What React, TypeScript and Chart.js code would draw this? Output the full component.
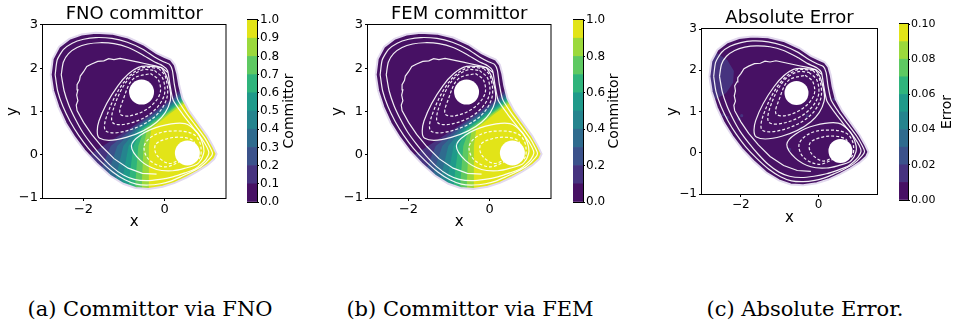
import React, { useEffect, useRef } from "react";
import { Chart, registerables } from "chart.js";

type Pt = [number, number];

// ---------------- data ----------------
const X_RANGE = [-3, 1.5];
const Y_RANGE = [-1, 3];
const X_TICKS = [-2, 0];
const Y_TICKS = [-1, 0, 1, 2, 3];

const COMMITTOR_LEVELS = [0, 0.1, 0.2, 0.3, 0.4, 0.5, 0.6, 0.7, 0.8, 0.9, 1.0];
const ERROR_LEVELS = [0, 0.01, 0.02, 0.03, 0.04, 0.05, 0.06, 0.07, 0.08, 0.09, 0.1];
const LEVEL_COLORS = ["#471164", "#46337f", "#3b528b", "#2f6b8e", "#25848e", "#1f9a8a", "#2fb47c", "#5ec962", "#9bd93c", "#e2e418"];
const CB1_TICKS = [0, 0.1, 0.2, 0.3, 0.4, 0.5, 0.6, 0.7, 0.8, 0.9, 1.0];
const CB2_TICKS = [0, 0.2, 0.4, 0.6, 0.8, 1.0];
const CB3_TICKS = [0, 0.02, 0.04, 0.06, 0.08, 0.1];

const WELLS: Pt[] = [[-0.57, 1.45], [0.56, 0.04]];

const DOMAIN: Pt[] = [
  [-2.81, 1.85], [-2.76, 2.22], [-2.6, 2.5], [-2.35, 2.68], [-2.05, 2.78], [-1.7, 2.82], [-1.3, 2.8], [-0.9, 2.71],
  [-0.5, 2.54], [-0.2, 2.35], [0.0, 2.26], [0.15, 2.2], [0.25, 2.08], [0.31, 1.88], [0.36, 1.6], [0.44, 1.3],
  [0.6, 1.02], [0.83, 0.72], [1.05, 0.43], [1.2, 0.18], [1.28, 0.02], [1.22, -0.1], [1.05, -0.24], [0.82, -0.38],
  [0.55, -0.52], [0.25, -0.65], [-0.05, -0.74], [-0.4, -0.79], [-0.72, -0.77], [-1.02, -0.67], [-1.35, -0.48],
  [-1.68, -0.2], [-1.98, 0.1], [-2.22, 0.4], [-2.44, 0.73], [-2.62, 1.1], [-2.75, 1.48],
];

const INSET_1: Pt[] = [
  [-2.7, 1.85], [-2.65, 2.19], [-2.5, 2.43], [-2.28, 2.58], [-2.0, 2.67], [-1.7, 2.71], [-1.3, 2.69], [-0.92, 2.6],
  [-0.54, 2.44], [-0.25, 2.26], [-0.03, 2.15], [0.12, 2.09], [0.19, 1.95], [0.24, 1.62], [0.32, 1.28], [0.52, 0.98],
  [0.76, 0.68], [0.98, 0.4], [1.12, 0.17], [1.18, 0.03], [1.12, -0.07], [0.9, -0.27], [0.65, -0.4], [0.4, -0.51],
  [0.15, -0.61], [-0.1, -0.67], [-0.4, -0.7], [-0.7, -0.68], [-0.98, -0.58], [-1.28, -0.4], [-1.6, -0.13],
  [-1.88, 0.15], [-2.12, 0.45], [-2.33, 0.77], [-2.51, 1.12], [-2.64, 1.48],
];

const INSET_2: Pt[] = [
  [-2.55, 1.85], [-2.5, 2.14], [-2.37, 2.34], [-2.16, 2.48], [-1.9, 2.56], [-1.6, 2.59], [-1.25, 2.57], [-0.9, 2.48],
  [-0.56, 2.32], [-0.28, 2.16], [-0.05, 2.06], [0.07, 1.95], [0.13, 1.62], [0.21, 1.26], [0.44, 0.94], [0.68, 0.65],
  [0.9, 0.39], [1.04, 0.18], [1.09, 0.04], [1.02, -0.1], [0.92, -0.2], [0.75, -0.33], [0.5, -0.42], [0.2, -0.51],
  [-0.12, -0.57], [-0.45, -0.6], [-0.75, -0.57], [-1.02, -0.47], [-1.3, -0.28], [-1.56, -0.03], [-1.8, 0.24],
  [-2.02, 0.52], [-2.2, 0.82], [-2.36, 1.14], [-2.48, 1.48],
];

// rough (noisy) contour: runs along the bottom, up the left side and over the top
const JAGGED: Pt[] = [
  [-0.2, -0.45], [-0.55, -0.43], [-0.9, -0.31], [-1.25, -0.09], [-1.55, 0.19], [-1.8, 0.47], [-2.0, 0.75],
  [-2.16, 1.02], [-2.18, 1.15], [-2.14, 1.25], [-2.17, 1.38], [-2.14, 1.5], [-2.16, 1.62], [-2.1, 1.72],
  [-2.08, 1.82], [-2.0, 1.92], [-1.92, 2.04], [-1.8, 2.1], [-1.65, 2.16], [-1.5, 2.17], [-1.38, 2.22],
  [-1.25, 2.2], [-1.1, 2.23], [-0.95, 2.2], [-0.8, 2.17], [-0.65, 2.14], [-0.5, 2.11], [-0.35, 2.08],
  [-0.2, 2.05], [-0.05, 2.0], [0.08, 1.9],
];

const UPPER_1: Pt[] = [[-0.35, 1.88], [-0.15, 1.72], [-0.12, 1.4], [-0.4, 1.08], [-0.85, 0.9], [-1.1, 0.95], [-1.02, 1.28], [-0.78, 1.75]];
const UPPER_2: Pt[] = [[-0.25, 1.95], [-0.04, 1.75], [-0.02, 1.35], [-0.35, 0.95], [-0.9, 0.72], [-1.28, 0.74], [-1.25, 1.1], [-0.92, 1.72], [-0.55, 1.96]];
const UPPER_3: Pt[] = [[-0.15, 2.0], [0.02, 1.8], [0.05, 1.3], [-0.28, 0.85], [-0.95, 0.55], [-1.45, 0.55], [-1.42, 0.92], [-1.02, 1.66], [-0.58, 2.0]];
const UPPER_4: Pt[] = [[-0.08, 2.02], [0.06, 1.78], [0.14, 1.25], [-0.2, 0.75], [-0.95, 0.4], [-1.6, 0.38], [-1.62, 0.78], [-1.15, 1.6], [-0.65, 2.02]];

const LOWER_1: Pt[] = [[0.4, -0.1], [0.1, -0.2], [-0.2, 0.0], [-0.22, 0.24], [0.1, 0.38], [0.45, 0.4], [0.7, 0.33], [0.75, 0.22]];
const LOWER_2: Pt[] = [[0.4, -0.15], [0.0, -0.28], [-0.4, -0.1], [-0.5, 0.22], [-0.2, 0.48], [0.3, 0.55], [0.7, 0.48], [0.86, 0.3], [0.9, 0.08], [0.86, -0.08], [0.72, -0.15]];
const LOWER_3: Pt[] = [[0.91, -0.1], [0.8, -0.22], [0.55, -0.3], [0.2, -0.37], [-0.2, -0.34], [-0.6, -0.13], [-0.82, 0.2], [-0.6, 0.45], [-0.1, 0.66], [0.5, 0.72], [0.8, 0.52], [0.93, 0.28], [0.97, 0.08]];

// committor iso-lines 0.1 ... 0.9 (band boundaries)
const ISO_01: Pt[] = [[-2.4, -0.4], [-1.8, 0.03], [-1.52, 0.2], [-0.87, 0.6], [0.1, 1.25], [0.5, 1.6], [1.0, 2.1]];
const ISO_02: Pt[] = [[-1.6, -1.2], [-1.55, -0.3], [-1.33, 0.2], [-0.8, 0.6], [0.1, 1.2], [0.5, 1.52], [1.0, 1.95]];
const ISO_03: Pt[] = [[-1.4, -1.2], [-1.38, -0.4], [-1.17, 0.2], [-0.74, 0.6], [0.1, 1.16], [0.5, 1.46], [1.0, 1.85]];
const ISO_04: Pt[] = [[-1.22, -1.2], [-1.2, -0.5], [-1.02, 0.2], [-0.68, 0.6], [0.1, 1.12], [0.5, 1.41], [1.0, 1.75]];
const ISO_05: Pt[] = [[-1.06, -1.2], [-1.04, -0.55], [-0.89, 0.2], [-0.62, 0.6], [0.1, 1.08], [0.5, 1.37], [1.0, 1.68]];
const ISO_06: Pt[] = [[-0.9, -1.2], [-0.88, -0.6], [-0.77, 0.2], [-0.56, 0.6], [0.1, 1.04], [0.5, 1.33], [1.0, 1.62]];
const ISO_07: Pt[] = [[-0.73, -1.2], [-0.72, -0.6], [-0.65, 0.2], [-0.5, 0.6], [0.1, 1.0], [0.5, 1.29], [1.0, 1.56]];
const ISO_08: Pt[] = [[-0.56, -1.2], [-0.56, -0.6], [-0.52, 0.2], [-0.43, 0.6], [0.1, 0.97], [0.5, 1.25], [1.0, 1.5]];
const ISO_09: Pt[] = [[-0.39, -1.2], [-0.39, 0.2], [-0.33, 0.6], [0.1, 0.93], [0.5, 1.2], [1.0, 1.45]];
const ISO_LINES = [ISO_01, ISO_02, ISO_03, ISO_04, ISO_05, ISO_06, ISO_07, ISO_08, ISO_09];
const FILL_RIGHT = 3;
const FILL_BOTTOM = -2;

// error map: 0.01-0.02 patch and small specks
const ERR_PATCH: Pt[] = [[-3.2, 2.5], [-2.62, 2.42], [-2.35, 2.25], [-2.18, 1.98], [-2.2, 1.7], [-2.38, 1.45], [-2.65, 1.3], [-3.2, 1.28]];
const ERR_SPECKS: Pt[] = [[-2.45, 0.92], [-2.35, 0.85], [-2.05, 0.82], [-1.98, 0.9], [-0.3, 0.9], [-0.45, 0.6], [0.4, 1.3], [-0.75, 0.08]];

const CAPTIONS = ["(a) Committor via FNO", "(b) Committor via FEM", "(c) Absolute Error."];

// ---------------- plugins ----------------
const domainClipPlugin = {
  id: "domainClip",
  beforeDatasetDraw(chart: any, args: any) {
    const ds = chart.data.datasets[args.index];
    const poly: Pt[] | undefined = ds && ds.clipPolygon;
    if (!poly) return;
    const { ctx, scales } = chart;
    ctx.save();
    ctx.beginPath();
    poly.forEach((p, i) => {
      const px = scales.x.getPixelForValue(p[0]);
      const py = scales.y.getPixelForValue(p[1]);
      if (i === 0) ctx.moveTo(px, py);
      else ctx.lineTo(px, py);
    });
    ctx.closePath();
    ctx.clip();
  },
  afterDatasetDraw(chart: any, args: any) {
    const ds = chart.data.datasets[args.index];
    if (ds && ds.clipPolygon) chart.ctx.restore();
  },
};
Chart.register(domainClipPlugin as any);
Chart.register(...registerables);
Chart.defaults.font.family = "'DejaVu Sans', sans-serif";
Chart.defaults.color = "#000";

const framePlugin = {
  id: "frameBox",
  afterDatasetsDraw(chart: any) {
    const { ctx, chartArea: a } = chart;
    ctx.save();
    ctx.strokeStyle = "#000";
    ctx.lineWidth = 1;
    ctx.strokeRect(a.left - 0.5, a.top - 0.5, a.right - a.left + 1, a.bottom - a.top + 1);
    ctx.restore();
  },
};

const cbLabelPlugin = {
  id: "cbLabel",
  afterDraw(chart: any, _args: any, opts: any) {
    if (!opts || !opts.text) return;
    const { ctx, chartArea: a } = chart;
    ctx.save();
    ctx.translate(a.right + opts.offset, (a.top + a.bottom) / 2);
    ctx.rotate(-Math.PI / 2);
    ctx.font = `${opts.size}px 'DejaVu Sans'`;
    ctx.fillStyle = "#000";
    ctx.textAlign = "center";
    ctx.textBaseline = "middle";
    ctx.fillText(opts.text, 0, 0);
    ctx.restore();
  },
};

// ---------------- helpers ----------------
const toXY = (pts: Pt[]) => pts.map(([x, y]) => ({ x, y }));
const closeLoop = (pts: Pt[]): Pt[] => [...pts, pts[0]];
const fmtTick = (v: any) => {
  const n = Number(v);
  return n < 0 ? "\u2212" + Math.abs(n) : String(n);
};

const CONTOURS = [
  { pts: closeLoop(INSET_1), dashed: false, tension: 0.2 },
  { pts: closeLoop(INSET_2), dashed: false, tension: 0.2 },
  { pts: JAGGED, dashed: false, tension: 0 },
  { pts: closeLoop(UPPER_1), dashed: true, tension: 0.35 },
  { pts: closeLoop(UPPER_2), dashed: true, tension: 0.35 },
  { pts: closeLoop(UPPER_3), dashed: true, tension: 0.35 },
  { pts: closeLoop(UPPER_4), dashed: false, tension: 0.35 },
  { pts: LOWER_1, dashed: true, tension: 0.35 },
  { pts: LOWER_2, dashed: true, tension: 0.35 },
  { pts: closeLoop(LOWER_3), dashed: false, tension: 0.35 },
];

interface PanelSpec {
  title: string;
  left: number;
  width: number;
  height: number;
  yAxisW: number;
  xAxisH: number;
  titlePad: number;
  tickSize: number;
  wellRadius: number;
  bands: boolean;
  error: boolean;
}

const PANELS: PanelSpec[] = [
  { title: "FNO committor", left: 0, width: 238, height: 232, yAxisW: 43, xAxisH: 34, titlePad: 3.4, tickSize: 13, wellRadius: 12.5, bands: true, error: false },
  { title: "FEM committor", left: 325, width: 238, height: 232, yAxisW: 43, xAxisH: 34, titlePad: 3.4, tickSize: 13, wellRadius: 12.5, bands: true, error: false },
  { title: "Absolute Error", left: 660, width: 229, height: 228, yAxisW: 42, xAxisH: 34, titlePad: 7.4, tickSize: 12, wellRadius: 12, bands: false, error: true },
];

interface CbSpec {
  left: number; top: number; width: number; height: number; barW: number;
  levels: number[]; ticks: number[]; decimals: number; label: string; offset: number; tickSize: number;
}
const COLORBARS: CbSpec[] = [
  { left: 247, top: 10, width: 60, height: 202, barW: 10, levels: COMMITTOR_LEVELS, ticks: CB1_TICKS, decimals: 1, label: "Committor", offset: 32, tickSize: 12 },
  { left: 573, top: 10, width: 60, height: 202, barW: 10, levels: COMMITTOR_LEVELS, ticks: CB2_TICKS, decimals: 1, label: "Committor", offset: 31, tickSize: 12 },
  { left: 899, top: 14, width: 54, height: 196, barW: 9, levels: ERROR_LEVELS, ticks: CB3_TICKS, decimals: 2, label: "Error", offset: 39, tickSize: 11 },
];

function panelDatasets(spec: PanelSpec) {
  const ds: any[] = [];
  ds.push({
    data: toXY(WELLS), showLine: false, pointRadius: spec.wellRadius, pointHoverRadius: spec.wellRadius,
    pointBackgroundColor: "#ffffff", pointBorderColor: "#ffffff", pointBorderWidth: 0, order: 0,
  });
  CONTOURS.forEach((c) => {
    ds.push({
      data: toXY(c.pts), showLine: true, pointRadius: 0, borderColor: "rgba(255,255,255,0.93)",
      borderWidth: 1.2, borderDash: c.dashed ? [3, 2] : [], tension: c.tension, fill: false, order: 1,
    });
  });
  ds.push({
    data: toXY(closeLoop(DOMAIN)), showLine: true, pointRadius: 0, borderColor: "#e2d9ee",
    borderWidth: 2, fill: false, tension: 0, order: 2,
  });
  if (spec.error) {
    ds.push({
      data: toXY(ERR_SPECKS), showLine: false, pointRadius: 1.6, pointBackgroundColor: LEVEL_COLORS[1],
      pointBorderWidth: 0, order: 5,
    });
    ds.push({
      data: toXY(ERR_PATCH), showLine: true, pointRadius: 0, borderWidth: 0, borderColor: "rgba(0,0,0,0)",
      backgroundColor: LEVEL_COLORS[1], fill: "shape", tension: 0, clipPolygon: DOMAIN, order: 40,
    });
  }
  if (spec.bands) {
    ISO_LINES.forEach((line, i) => {
      const first = line[0];
      const last = line[line.length - 1];
      const poly: Pt[] = [...line, [FILL_RIGHT, last[1]], [FILL_RIGHT, FILL_BOTTOM], [first[0], FILL_BOTTOM]];
      ds.push({
        data: toXY(poly), showLine: true, pointRadius: 0, borderWidth: 0, borderColor: "rgba(0,0,0,0)",
        backgroundColor: LEVEL_COLORS[i + 1], fill: "shape", tension: 0, clipPolygon: DOMAIN, order: 40 - i,
      });
    });
  }
  ds.push({
    data: toXY(DOMAIN), showLine: true, pointRadius: 0, borderWidth: 0, borderColor: "rgba(0,0,0,0)",
    backgroundColor: LEVEL_COLORS[0], fill: "shape", tension: 0, order: 50,
  });
  return ds;
}

function panelConfig(spec: PanelSpec): any {
  return {
    type: "scatter",
    data: { datasets: panelDatasets(spec) },
    options: {
      responsive: false,
      animation: false,
      events: [],
      layout: { padding: { left: 0, right: 1, top: 0, bottom: 0 } },
      plugins: {
        legend: { display: false },
        tooltip: { enabled: false },
        title: {
          display: true, text: spec.title, color: "#000", fullSize: false,
          font: { size: 18, weight: "normal" }, padding: { top: spec.titlePad, bottom: 0 },
        },
      },
      scales: {
        x: {
          type: "linear", min: X_RANGE[0], max: X_RANGE[1],
          afterBuildTicks: (a: any) => { a.ticks = X_TICKS.map((v) => ({ value: v })); },
          afterFit: (a: any) => { a.height = spec.xAxisH; },
          grid: { drawOnChartArea: false, drawTicks: true, tickLength: 3, color: "#000" },
          border: { display: false },
          ticks: { font: { size: spec.tickSize }, color: "#000", padding: 1, maxRotation: 0, autoSkip: false, callback: fmtTick },
          title: { display: true, text: "x", color: "#000", font: { size: 15 }, padding: { top: 0, bottom: 1 } },
        },
        y: {
          type: "linear", min: Y_RANGE[0], max: Y_RANGE[1],
          afterBuildTicks: (a: any) => { a.ticks = Y_TICKS.map((v) => ({ value: v })); },
          afterFit: (a: any) => { a.width = spec.yAxisW; },
          grid: { drawOnChartArea: false, drawTicks: true, tickLength: 3, color: "#000" },
          border: { display: false },
          ticks: { font: { size: spec.tickSize }, color: "#000", padding: 2, autoSkip: false, callback: fmtTick },
          title: { display: true, text: "y", color: "#000", font: { size: 15 }, padding: { top: 4, bottom: 0 } },
        },
      },
    },
    plugins: [framePlugin],
  };
}

function colorbarConfig(cb: CbSpec): any {
  return {
    type: "bar",
    data: {
      labels: [""],
      datasets: LEVEL_COLORS.map((c, i) => ({
        data: [[cb.levels[i], cb.levels[i + 1]]], backgroundColor: c, borderWidth: 0,
        barPercentage: 1, categoryPercentage: 1, grouped: false,
      })),
    },
    options: {
      responsive: false,
      animation: false,
      events: [],
      layout: { padding: { top: 10, bottom: 10, left: 0, right: 0 } },
      plugins: {
        legend: { display: false },
        tooltip: { enabled: false },
        cbLabel: { text: cb.label, offset: cb.offset, size: 14 },
      },
      scales: {
        x: { display: false },
        y: {
          position: "right", min: cb.levels[0], max: cb.levels[cb.levels.length - 1],
          afterBuildTicks: (a: any) => { a.ticks = cb.ticks.map((v) => ({ value: v })); },
          afterFit: (a: any) => { a.width = cb.width - cb.barW; },
          grid: { drawOnChartArea: false, drawTicks: true, tickLength: 2, color: "#000" },
          border: { display: false },
          ticks: { font: { size: cb.tickSize }, color: "#000", padding: 1, autoSkip: false, callback: (v: any) => Number(v).toFixed(cb.decimals) },
        },
      },
    },
    plugins: [framePlugin, cbLabelPlugin],
  };
}

const CAPTION_CENTERS = [150, 470, 805];

export default function App() {
  const panelRefs = useRef<(HTMLCanvasElement | null)[]>([]);
  const cbRefs = useRef<(HTMLCanvasElement | null)[]>([]);

  useEffect(() => {
    const charts: Chart[] = [];
    PANELS.forEach((p, i) => {
      const el = panelRefs.current[i];
      if (el) charts.push(new Chart(el, panelConfig(p)));
    });
    COLORBARS.forEach((cb, i) => {
      const el = cbRefs.current[i];
      if (el) charts.push(new Chart(el, colorbarConfig(cb)));
    });
    return () => charts.forEach((c) => c.destroy());
  }, []);

  return (
    <div style={{ position: "absolute", left: 0, top: 0, width: 953, height: 322, background: "#fff", overflow: "hidden" }}>
      {PANELS.map((p, i) => (
        <canvas
          key={"p" + i}
          ref={(el) => { panelRefs.current[i] = el; }}
          width={p.width}
          height={p.height}
          style={{ position: "absolute", left: p.left, top: 0, display: "block" }}
        />
      ))}
      {COLORBARS.map((cb, i) => (
        <canvas
          key={"c" + i}
          ref={(el) => { cbRefs.current[i] = el; }}
          width={cb.width}
          height={cb.height}
          style={{ position: "absolute", left: cb.left, top: cb.top, display: "block" }}
        />
      ))}
      {CAPTIONS.map((t, i) => (
        <div
          key={"t" + i}
          style={{
            position: "absolute", left: CAPTION_CENTERS[i] - 170, width: 340, top: 296.5, textAlign: "center",
            fontFamily: "'DejaVu Serif', serif", fontSize: 21, color: "#000", whiteSpace: "nowrap", lineHeight: "normal",
          }}
        >
          {t}
        </div>
      ))}
    </div>
  );
}
